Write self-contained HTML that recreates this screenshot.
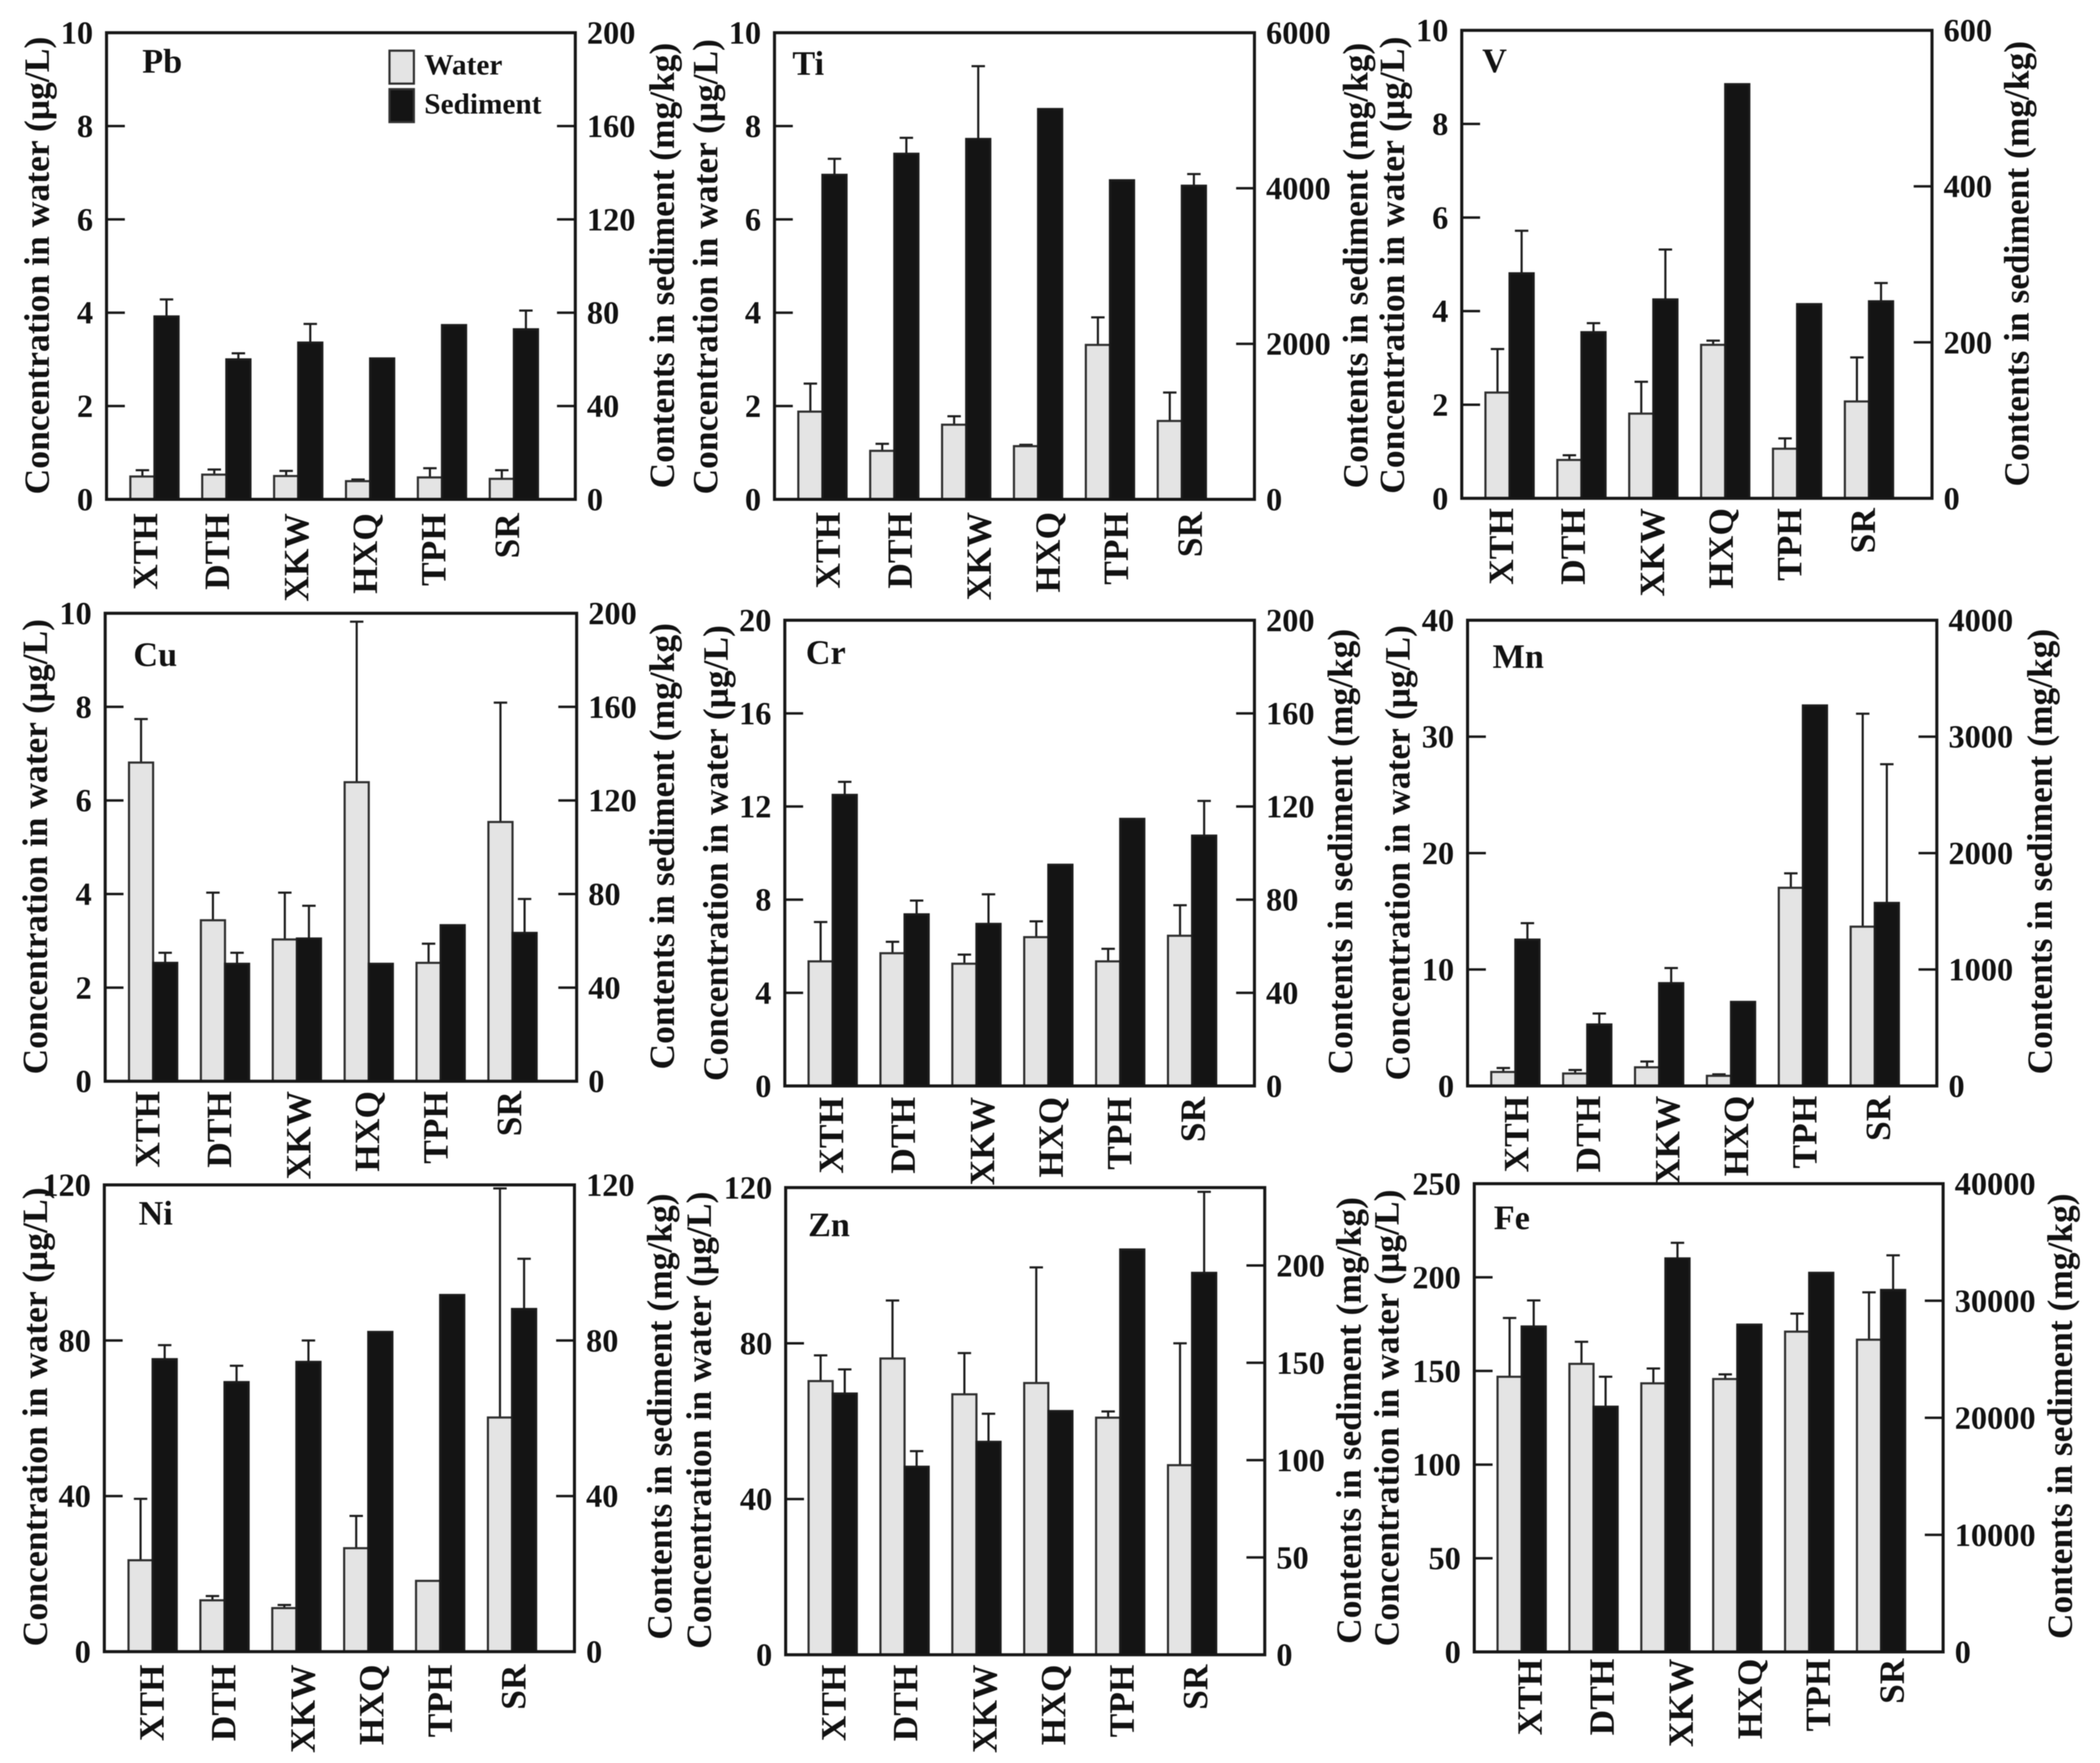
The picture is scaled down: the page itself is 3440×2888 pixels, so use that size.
<!DOCTYPE html>
<html lang="en">
<head>
<meta charset="utf-8">
<title>Metal concentrations in water and sediment</title>
<style>
html,body{margin:0;padding:0;background:#fff;width:3440px;height:2888px;overflow:hidden}
#figure{display:block;filter:blur(0.9px)}
text{font-family:"Liberation Serif","DejaVu Serif",serif;fill:#111}
</style>
</head>
<body>
<svg id="figure" xmlns="http://www.w3.org/2000/svg" width="3440" height="2888" viewBox="0 0 3440 2888"></svg>
<script>
const categories = ['XTH','DTH','XKW','HXQ','TPH','SR'];

const pbLeftTicks = [0,2,4,6,8,10];
const pbRightTicks = [0,40,80,120,160,200];
const pbWater = [0.49,0.53,0.50,0.39,0.47,0.44];
const pbWaterTop = [0.625,0.64,0.61,0.425,0.667,0.625];
const pbSediment = [78.4,60,67.2,60.4,74.7,72.9];
const pbSedimentTop = [85.7,62.6,75.2,null,null,80.9];

const tiLeftTicks = [0,2,4,6,8,10];
const tiRightTicks = [0,2000,4000,6000];
const tiWater = [1.88,1.04,1.6,1.14,3.31,1.68];
const tiWaterTop = [2.48,1.19,1.78,1.17,3.9,2.29];
const tiSediment = [4173,4444,4634,5019,4103,4033];
const tiSedimentTop = [4379,4649,5570,null,null,4183];

const vLeftTicks = [0,2,4,6,8,10];
const vRightTicks = [0,200,400,600];
const vWater = [2.26,0.82,1.81,3.28,1.06,2.07];
const vWaterTop = [3.19,0.92,2.49,3.37,1.28,3.01];
const vSediment = [288.5,213,255,531,249,252.6];
const vSedimentTop = [343,224.6,319,null,null,276];

const cuLeftTicks = [0,2,4,6,8,10];
const cuRightTicks = [0,40,80,120,160,200];
const cuWater = [6.81,3.44,3.03,6.39,2.53,5.54];
const cuWaterTop = [7.74,4.03,4.03,9.82,2.94,8.09];
const cuSediment = [50.6,50.2,61,50.2,66.7,63.4];
const cuSedimentTop = [54.9,54.9,75,null,null,77.9];

const crLeftTicks = [0,4,8,12,16,20];
const crRightTicks = [0,40,80,120,160,200];
const crWater = [5.35,5.7,5.25,6.39,5.35,6.45];
const crWaterTop = [7.04,6.19,5.64,7.07,5.89,7.76];
const crSediment = [125,73.7,69.6,95,114.7,107.5];
const crSedimentTop = [130.6,79.6,82.3,null,null,122.4];

const mnLeftTicks = [0,10,20,30,40];
const mnRightTicks = [0,1000,2000,3000,4000];
const mnWater = [1.2,1.07,1.6,0.87,17.02,13.68];
const mnWaterTop = [1.54,1.37,2.1,1.0,18.26,31.97];
const mnSediment = [1257,528,883,722,3268,1572];
const mnSedimentTop = [1398,622,1013,null,null,2763];

const niLeftTicks = [0,40,80,120];
const niRightTicks = [0,40,80,120];
const niWater = [23.5,13.2,11.2,26.6,18.2,60.2];
const niWaterTop = [39.3,14.3,12,34.9,null,119.1];
const niSediment = [75.2,69.3,74.5,82.2,91.7,88.1];
const niSedimentTop = [78.8,73.5,80,null,null,101];

const znLeftTicks = [0,40,80,120];
const znRightTicks = [0,50,100,150,200];
const znWater = [70.3,76.1,66.9,69.8,60.9,48.7];
const znWaterTop = [76.9,91,77.5,99.5,62.5,80];
const znSediment = [134.2,96.6,109.4,125.2,208.2,196.2];
const znSedimentTop = [146.6,104.6,123.8,null,null,237.8];

const feLeftTicks = [0,50,100,150,200,250];
const feRightTicks = [0,10000,20000,30000,40000];
const feWater = [146.9,153.8,143.4,145.7,171,166.7];
const feWaterTop = [178.3,165.6,151.3,148.2,180.6,192];
const feSediment = [27800,20948,33616,27960,32386,30923];
const feSedimentTop = [30025,23508,34946,null,null,33882];

/* Panel series bundles */
const panelSeries = [
  {name:'Pb',leftTicks:pbLeftTicks,rightTicks:pbRightTicks,leftMax:10,rightMax:200,water:pbWater,waterTop:pbWaterTop,sediment:pbSediment,sedimentTop:pbSedimentTop},
  {name:'Ti',leftTicks:tiLeftTicks,rightTicks:tiRightTicks,leftMax:10,rightMax:6000,water:tiWater,waterTop:tiWaterTop,sediment:tiSediment,sedimentTop:tiSedimentTop},
  {name:'V',leftTicks:vLeftTicks,rightTicks:vRightTicks,leftMax:10,rightMax:600,water:vWater,waterTop:vWaterTop,sediment:vSediment,sedimentTop:vSedimentTop},
  {name:'Cu',leftTicks:cuLeftTicks,rightTicks:cuRightTicks,leftMax:10,rightMax:200,water:cuWater,waterTop:cuWaterTop,sediment:cuSediment,sedimentTop:cuSedimentTop},
  {name:'Cr',leftTicks:crLeftTicks,rightTicks:crRightTicks,leftMax:20,rightMax:200,water:crWater,waterTop:crWaterTop,sediment:crSediment,sedimentTop:crSedimentTop},
  {name:'Mn',leftTicks:mnLeftTicks,rightTicks:mnRightTicks,leftMax:40,rightMax:4000,water:mnWater,waterTop:mnWaterTop,sediment:mnSediment,sedimentTop:mnSedimentTop},
  {name:'Ni',leftTicks:niLeftTicks,rightTicks:niRightTicks,leftMax:120,rightMax:120,water:niWater,waterTop:niWaterTop,sediment:niSediment,sedimentTop:niSedimentTop},
  {name:'Zn',leftTicks:znLeftTicks,rightTicks:znRightTicks,leftMax:120,rightMax:240,water:znWater,waterTop:znWaterTop,sediment:znSediment,sedimentTop:znSedimentTop},
  {name:'Fe',leftTicks:feLeftTicks,rightTicks:feRightTicks,leftMax:250,rightMax:40000,water:feWater,waterTop:feWaterTop,sediment:feSediment,sedimentTop:feSedimentTop}
];

/* Layout, separate from the data */
const panelLayouts = [
  {L:174.5,R:942.4,T:53.6,B:818,c0:253,lblDx:-14.7,lblDy:22.6,nameX:233,nameY:119,
   lt:{x:80,y0:810,y1:60},rt:{x:1104,y0:800,y1:70}},
  {L:1268.7,R:2054.9,T:53.6,B:818,c0:1347.2,lblDx:9.5,lblDy:20.6,nameX:1298,nameY:122.5,
   lt:{x:1175,y0:810,y1:64},rt:{x:2240,y0:800,y1:70}},
  {L:2394.5,R:3164.8,T:49.7,B:816.3,c0:2472.8,lblDx:-13.4,lblDy:16,nameX:2428,nameY:118,
   lt:{x:2300,y0:809,y1:60},rt:{x:3323,y0:797,y1:67}},
  {L:172.3,R:944.6,T:1004.6,B:1771.2,c0:250.8,lblDx:-8.8,lblDy:16,nameX:218.5,nameY:1091,
   lt:{x:77,y0:1760,y1:1014},rt:{x:1104,y0:1752,y1:1020.6}},
  {L:1285.6,R:2054.9,T:1016,B:1778.9,c0:1364,lblDx:-2,lblDy:18,nameX:1320,nameY:1087.5,
   lt:{x:1192,y0:1771,y1:1024},rt:{x:2215,y0:1760,y1:1030}},
  {L:2404,R:3172.7,T:1016,B:1778.9,c0:2482.3,lblDx:2,lblDy:16,nameX:2445,nameY:1094,
   lt:{x:2309,y0:1770,y1:1024},rt:{x:3361,y0:1760,y1:1030}},
  {L:170.9,R:941,T:1941,B:2705.6,c0:250,lblDx:-1,lblDy:21,nameX:227,nameY:2006,
   lt:{x:77,y0:2697,y1:1945},rt:{x:1100,y0:2686,y1:1955}},
  {L:1287,R:2071.8,T:1945.4,B:2710.7,c0:1364,lblDx:2,lblDy:16,nameX:1323.7,nameY:2025,
   lt:{x:1164.5,y0:2701,y1:1952},rt:{x:2229,y0:2693,y1:1961}},
  {L:2415,R:3183,T:1939,B:2706,c0:2492.6,lblDx:14,lblDy:11,nameX:2447,nameY:2013.6,
   lt:{x:2291,y0:2697,y1:1948.6},rt:{x:3394,y0:2685,y1:1955}}
];
const categoryShift = [0,0,12,7,1,4];

const SVG_NS = 'http://www.w3.org/2000/svg';
const root = document.getElementById('figure');
const BAR_W = 39.5, PITCH = 117.75, TICK_LEN = 30, CAP_W = 22;

function mk(tag, attrs, parent, txt){
  const el = document.createElementNS(SVG_NS, tag);
  for (const k in attrs) el.setAttribute(k, attrs[k]);
  if (txt !== undefined) el.textContent = txt;
  parent.appendChild(el);
  return el;
}

function drawBar(g, x, value, scale, fill, stroke, baseY, seriesName, cat){
  const y = scale(value);
  const r = mk('rect',{x:x,y:y,width:BAR_W,height:Math.max(0,baseY-y),fill:fill,stroke:stroke,'stroke-width':3.5},g);
  
  
}

function drawError(g, cx, value, top, scale, seriesName, cat){
  if (top === null) return;
  const eg = mk('g',{stroke:'#1c1c1c','stroke-width':3.5},g);
  
  
  mk('line',{x1:cx,x2:cx,y1:scale(value),y2:scale(top)},eg);
  mk('line',{x1:cx-CAP_W/2,x2:cx+CAP_W/2,y1:scale(top),y2:scale(top)},eg);
}

panelSeries.forEach((s, idx) => {
  const p = panelLayouts[idx];
  const key = s.name.toLowerCase();
  const g = mk('g',{},root);
  
  

  const yLeft = v => p.B - v / s.leftMax * (p.B - p.T);
  const yRight = v => p.B - v / s.rightMax * (p.B - p.T);
  const xCenter = i => p.c0 + i * PITCH;

  /* bars */
  const waterGroup = mk('g',{},g);
  
  
  const sedGroup = mk('g',{},g);
  
  
  categories.forEach((c, i) => {
    const cx = xCenter(i);
    drawError(waterGroup, cx - BAR_W/2, s.water[i], s.waterTop[i], yLeft, 'water', c);
    drawBar(waterGroup, cx - BAR_W, s.water[i], yLeft, '#e4e4e4', '#2e2e2e', p.B, 'water', c);
    drawError(sedGroup, cx + BAR_W/2, s.sediment[i], s.sedimentTop[i], yRight, 'sediment', c);
    drawBar(sedGroup, cx, s.sediment[i], yRight, '#141414', '#1c1c1c', p.B, 'sediment', c);
  });

  /* frame */
  const frame = mk('rect',{x:p.L,y:p.T,width:p.R-p.L,height:p.B-p.T,fill:'none',stroke:'#161616','stroke-width':5},g);
  
  

  /* left axis */
  s.leftTicks.forEach(v => {
    const y = yLeft(v);
    if (v !== 0 && v !== s.leftMax) {
      const t = mk('line',{x1:p.L,x2:p.L+TICK_LEN,y1:y,y2:y,stroke:'#161616','stroke-width':4},g);
      
      
    }
    const l = mk('text',{x:p.L-22,y:y+18,'text-anchor':'end','font-size':53,'font-weight':'bold'},g,String(v));
    
    
  });

  /* right axis */
  s.rightTicks.forEach(v => {
    const y = yRight(v);
    if (v !== 0 && v !== s.rightMax) {
      const t = mk('line',{x1:p.R,x2:p.R-TICK_LEN,y1:y,y2:y,stroke:'#161616','stroke-width':4},g);
      
      
    }
    const l = mk('text',{x:p.R+19,y:y+18,'text-anchor':'start','font-size':53,'font-weight':'bold'},g,String(v));
    
    
  });

  /* category labels */
  categories.forEach((c, i) => {
    const x = xCenter(i) + p.lblDx + categoryShift[i] + 19;
    const y = p.B + p.lblDy;
    const l = mk('text',{x:x,y:y,'text-anchor':'end','font-size':58,'font-weight':'bold',
      transform:'rotate(-90 '+x+' '+y+')'},g,c);
    
    
  });

  /* axis titles */
  const ltMid = (p.lt.y0 + p.lt.y1) / 2;
  const lt = mk('text',{x:p.lt.x,y:ltMid,'text-anchor':'middle','font-size':58,'font-weight':'bold',
    textLength:p.lt.y0-p.lt.y1,lengthAdjust:'spacingAndGlyphs',
    transform:'rotate(-90 '+p.lt.x+' '+ltMid+')'},g,'Concentration in water (\u03bcg/L)');
  
  

  const rtMid = (p.rt.y0 + p.rt.y1) / 2;
  const rt = mk('text',{x:p.rt.x,y:rtMid,'text-anchor':'middle','font-size':58,'font-weight':'bold',
    textLength:p.rt.y0-p.rt.y1,lengthAdjust:'spacingAndGlyphs',
    transform:'rotate(-90 '+p.rt.x+' '+rtMid+')'},g,'Contents in sediment (mg/kg)');
  
  

  /* panel element name */
  const n = mk('text',{x:p.nameX,y:p.nameY,'font-size':56,'font-weight':'bold'},g,s.name);
  
  
});

/* legend in the Pb panel */
const legend = mk('g',{},root);



const legendWaterSwatch = mk('rect',{x:638,y:83,width:40,height:54,fill:'#e4e4e4',stroke:'#2e2e2e','stroke-width':3.5},legend);


const legendWaterText = mk('text',{x:695,y:122,'font-size':48,'font-weight':'bold'},legend,'Water');


const legendSedSwatch = mk('rect',{x:638,y:146,width:40,height:54,fill:'#141414',stroke:'#333','stroke-width':3.5},legend);


const legendSedText = mk('text',{x:695,y:186,'font-size':48,'font-weight':'bold'},legend,'Sediment');


</script>
</body>
</html>
